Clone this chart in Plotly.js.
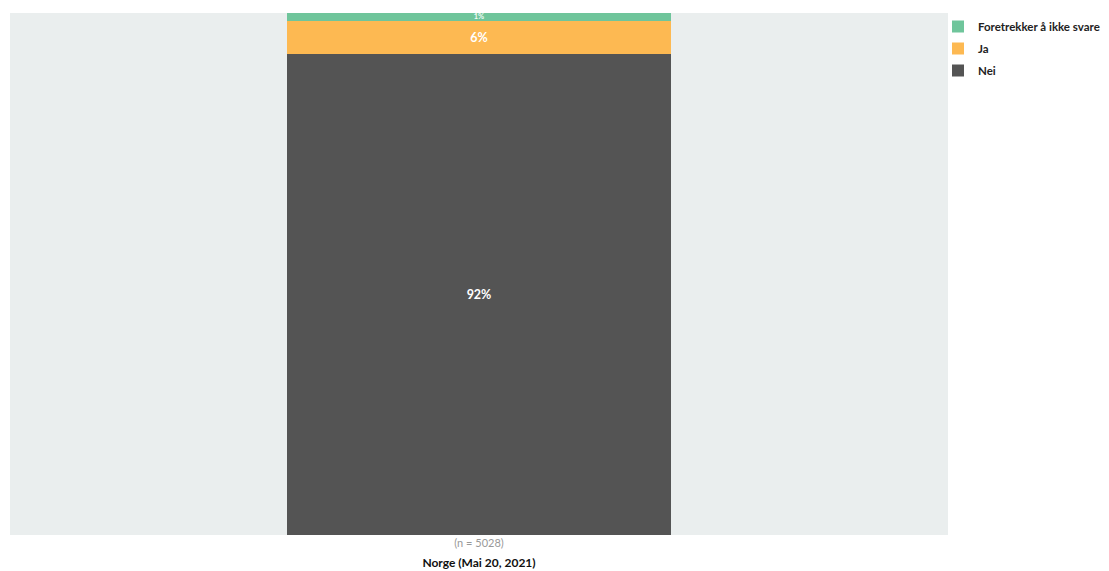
<!DOCTYPE html>
<html><head><meta charset="utf-8">
<script src="https://cdn.plot.ly/plotly-3.0.1.min.js"></script>
<style>body{margin:0;}#c{width:1109px;height:571px;}</style>
</head><body><div id="c"></div>
<script>
const categories = ["Norge (Mai 20, 2021)"];
const tickLabels = ["(n = 5028)"];
const seriesNames = ["Nei", "Ja", "Foretrekker å ikke svare"];
const nei = [92.3];
const ja = [6.3];
const foretrekker = [1.5];
const labelsNei = ["92%"];
const labelsJa = ["6%"];
const labelsForetrekker = ["1%"];
const colors = ["#545454", "#fdb952", "#6fc59b"];

const vals = [nei, ja, foretrekker];
const labs = [labelsNei, labelsJa, labelsForetrekker];
const labelSizes = [12.5, 12.5, 7.5];
const labelColors = ['#ffffff', '#ffffff', '#f2fbf6'];
const ranks = [3, 2, 1];
const traces = seriesNames.map((n, i) => ({
  type: 'bar', name: n, x: categories, y: vals[i], legendgroup: 'g' + i, legendrank: ranks[i],
  text: labs[i], textposition: 'inside', insidetextanchor: 'middle', constraintext: 'none', textangle: 0,
  textfont: {color: labelColors[i], family: 'Lato', size: labelSizes[i], weight: 'bold'},
  insidetextfont: {color: labelColors[i], family: 'Lato', size: labelSizes[i], weight: 'bold'},
  marker: {color: colors[i]}, hoverinfo: 'none', cliponaxis: false
}));

Plotly.newPlot('c', traces, {
  width: 1109, height: 571,
  barmode: 'stack', bargap: 0.59,
  margin: {l: 10, r: 161, t: 13, b: 36, autoexpand: false},
  plot_bgcolor: '#eaeeee', paper_bgcolor: '#ffffff',
  showlegend: true,
  legend: {xref: 'container', yref: 'container', x: 938/1109, y: 1 - 12/571, xanchor: 'left', yanchor: 'top',
    bgcolor: 'rgba(0,0,0,0)', traceorder: 'grouped', tracegroupgap: 3,
    font: {family: 'Lato', size: 11.5, color: '#222', weight: 'bold'}},
  xaxis: {tickmode: 'array', tickvals: categories, ticktext: tickLabels,
    tickfont: {family: 'Lato', size: 11, color: '#999'}, ticks: '', ticklen: 0,
    showgrid: false, zeroline: false, automargin: false,
    title: {text: '<b>' + categories[0] + '</b>', standoff: 10, font: {family: 'Lato', size: 12, color: '#111'}}},
  yaxis: {range: [0, 100.1], visible: false, showgrid: false, zeroline: false, fixedrange: true}
}, {displayModeBar: false, staticPlot: true});
</script></body></html>
